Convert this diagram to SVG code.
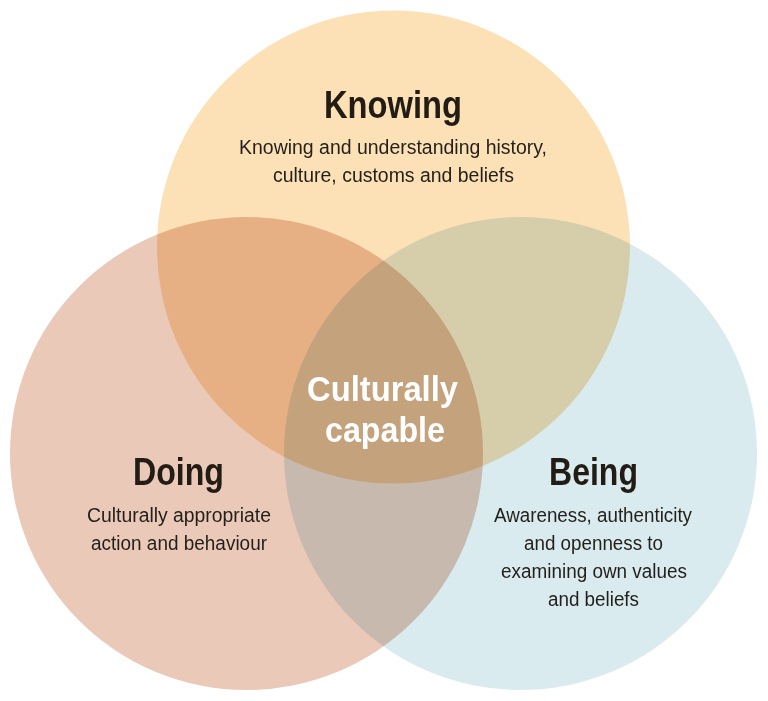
<svg xmlns="http://www.w3.org/2000/svg" width="768" height="701" viewBox="0 0 768 701">
<style>
.c{mix-blend-mode:multiply}
.h{font-family:"Liberation Sans",Arial,sans-serif;font-weight:700;font-size:38px;fill:#221c15;text-anchor:middle}
.t{font-family:"Liberation Sans",Arial,sans-serif;font-size:20px;fill:#231f1a;text-anchor:middle}
.w{fill:#ffffff;font-size:35px}
</style>
<rect width="768" height="701" fill="#ffffff"/>
<g id="circles" style="isolation:isolate">
<circle id="knowing-circle" class="c" cx="393.5" cy="247" r="236.5" fill="#fce0b6"/>
<circle id="doing-circle" class="c" cx="246.5" cy="453.5" r="236.5" fill="#eac9b9"/>
<circle id="being-circle" class="c" cx="520.5" cy="453.5" r="236.5" fill="#d9ebef"/>
</g>
<g id="connectors"/>
<g id="knowing">
<text class="h" x="393" y="118" textLength="138" lengthAdjust="spacingAndGlyphs">Knowing</text>
<text class="t" x="393" y="154" textLength="308" lengthAdjust="spacingAndGlyphs">Knowing and understanding history,</text>
<text class="t" x="393.5" y="182" textLength="241" lengthAdjust="spacingAndGlyphs">culture, customs and beliefs</text>
</g>
<g id="doing">
<text class="h" x="178.5" y="485" textLength="91" lengthAdjust="spacingAndGlyphs">Doing</text>
<text class="t" x="179" y="522" textLength="184" lengthAdjust="spacingAndGlyphs">Culturally appropriate</text>
<text class="t" x="179" y="550" textLength="176" lengthAdjust="spacingAndGlyphs">action and behaviour</text>
</g>
<g id="being">
<text class="h" x="593.5" y="485" textLength="89" lengthAdjust="spacingAndGlyphs">Being</text>
<text class="t" x="593" y="522" textLength="198" lengthAdjust="spacingAndGlyphs">Awareness, authenticity</text>
<text class="t" x="593.5" y="550" textLength="139" lengthAdjust="spacingAndGlyphs">and openness to</text>
<text class="t" x="594" y="578" textLength="186" lengthAdjust="spacingAndGlyphs">examining own values</text>
<text class="t" x="593.5" y="606" textLength="91" lengthAdjust="spacingAndGlyphs">and beliefs</text>
</g>
<g id="culturally-capable">
<text class="h w" x="382.5" y="401" textLength="151" lengthAdjust="spacingAndGlyphs">Culturally</text>
<text class="h w" x="385" y="442" textLength="120" lengthAdjust="spacingAndGlyphs">capable</text>
</g>
</svg>
